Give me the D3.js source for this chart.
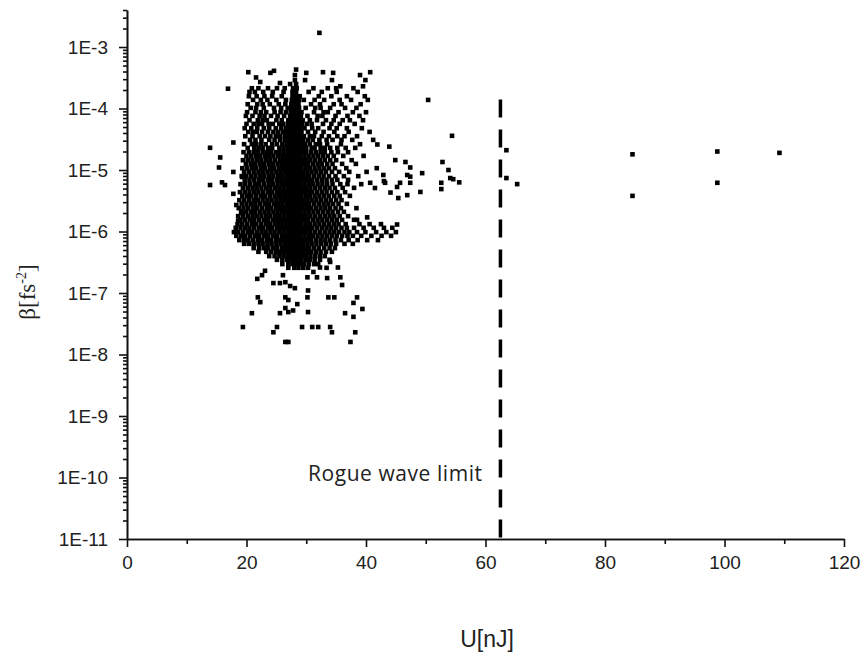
<!DOCTYPE html>
<html>
<head>
<meta charset="utf-8">
<script src="https://cdn.jsdelivr.net/npm/d3@7"></script>
<style>
    body { margin: 0; background: #fff; }
    text { fill: #222; }
</style>
</head>
<body>
<svg id="chart" width="864" height="657"></svg>
<script>
// tick values and labels
var xTicks = [0, 20, 40, 60, 80, 100, 120];
var xMinorTicks = [10, 30, 50, 70, 90, 110];
var yTicks = [1e-11, 1e-10, 1e-9, 1e-8, 1e-7, 1e-6, 1e-5, 1e-4, 1e-3];
var yTickLabels = ["1E-11", "1E-10", "1E-9", "1E-8", "1E-7", "1E-6", "1E-5", "1E-4", "1E-3"];

// rogue wave limit line (U in nJ, top of the dashed line in fs^-2)
var limitU = 62.5;
var limitTop = 1.4e-4;

// the cloud, read row by row: [log10(beta), [U values]]
var coreRows = [
    [-3.67, [20.9, 22.0, 23.6, 25.1, 26.4, 27.8, 28.4, 31.2, 33.6, 35.0, 37.9]],
    [-3.73, [20.5, 21.4, 22.8, 24.4, 26.2, 27.7, 28.3, 30.4, 32.6, 35.1, 38.6]],
    [-3.80, [20.4, 21.7, 23.0, 24.3, 25.9, 27.7, 28.3, 28.9, 32.1, 34.2, 36.8, 39.8]],
    [-3.86, [21.1, 22.4, 23.5, 25.0, 26.6, 27.6, 28.2, 28.8, 29.6, 31.4, 33.0, 35.6, 37.5, 40.3]],
    [-3.93, [20.2, 21.8, 22.7, 23.9, 25.4, 26.5, 27.5, 28.1, 28.7, 30.8, 32.3, 34.6, 35.9, 39.1]],
    [-3.99, [20.7, 21.6, 22.9, 24.6, 25.8, 26.9, 27.6, 28.2, 28.8, 29.9, 31.5, 32.4, 34.0, 36.5, 38.4]],
    [-4.06, [20.1, 21.5, 22.4, 23.3, 24.7, 25.7, 26.6, 27.4, 28.0, 28.6, 29.2, 31.3, 32.9, 33.6, 35.4, 37.8, 40.0]],
    [-4.12, [19.9, 21.0, 22.2, 23.0, 24.1, 25.2, 26.3, 27.3, 27.9, 28.5, 29.1, 30.2, 31.9, 32.7, 34.9, 36.9, 38.9]],
    [-4.19, [20.5, 21.9, 22.7, 23.4, 25.0, 25.9, 27.0, 27.6, 28.2, 28.8, 29.4, 30.6, 31.8, 33.3, 34.6, 36.1, 37.3, 39.5]],
    [-4.25, [20.0, 21.2, 22.0, 22.6, 23.7, 24.4, 25.5, 26.1, 26.9, 27.5, 28.1, 28.7, 29.3, 30.1, 30.9, 32.8, 34.2, 35.6, 38.1]],
    [-4.32, [19.7, 20.8, 21.8, 22.9, 23.8, 24.9, 25.8, 26.6, 27.2, 27.8, 28.4, 29.0, 29.7, 31.0, 32.0, 33.9, 35.1, 36.8, 39.3]],
    [-4.38, [20.3, 21.1, 21.7, 22.6, 23.6, 24.5, 25.3, 26.1, 26.8, 27.4, 28.0, 28.6, 29.2, 30.3, 31.5, 32.9, 34.7, 37.1, 40.6]],
    [-4.45, [19.8, 21.0, 22.2, 23.1, 24.0, 24.9, 25.6, 26.4, 27.1, 27.7, 28.3, 28.9, 29.6, 30.6, 31.3, 32.6, 33.8, 35.2, 36.4, 38.5]],
    [-4.51, [20.6, 21.5, 22.5, 23.8, 24.7, 25.6, 26.4, 27.1, 27.7, 28.3, 28.9, 29.5, 30.3, 31.1, 32.2, 33.4, 34.4, 35.9, 37.7, 41.2]],
    [-4.58, [19.6, 20.9, 21.6, 22.4, 23.2, 24.3, 25.1, 26.0, 26.7, 27.3, 27.9, 28.5, 29.1, 29.8, 30.6, 31.6, 32.3, 33.5, 35.8, 39.0]],
    [-4.64, [20.2, 21.3, 22.0, 22.7, 23.6, 24.3, 25.5, 26.2, 26.9, 27.5, 28.1, 28.7, 29.3, 30.0, 30.9, 31.4, 32.4, 33.1, 34.0, 35.2, 36.6, 38.2]],
    [-4.71, [19.5, 20.4, 21.2, 21.9, 22.7, 23.4, 24.1, 24.9, 25.5, 26.2, 26.9, 27.5, 28.1, 28.7, 29.3, 30.0, 30.8, 31.6, 32.4, 33.1, 34.2, 35.3, 37.0]],
    [-4.77, [20.0, 20.8, 21.6, 22.3, 23.1, 23.8, 24.5, 25.3, 26.0, 26.6, 27.2, 27.8, 28.4, 29.0, 29.7, 30.4, 31.2, 32.0, 32.8, 33.6, 34.6, 36.2, 39.6]],
    [-4.84, [19.4, 20.2, 21.0, 21.8, 22.5, 23.3, 24.0, 24.8, 25.6, 26.3, 26.9, 27.5, 28.1, 28.7, 29.3, 30.0, 30.7, 31.5, 32.3, 33.1, 34.0, 35.0, 37.6]],
    [-4.90, [19.9, 20.7, 21.4, 22.2, 22.9, 23.7, 24.4, 25.2, 25.9, 26.6, 27.2, 27.8, 28.4, 29.0, 29.6, 30.3, 31.1, 31.9, 32.6, 33.5, 34.4, 36.0, 38.3]],
    [-4.97, [19.3, 20.1, 20.9, 21.6, 22.4, 23.1, 23.9, 24.6, 25.4, 26.1, 26.8, 27.4, 28.0, 28.6, 29.2, 29.9, 30.6, 31.4, 32.2, 33.0, 33.8, 34.8, 36.7, 41.8]],
    [-5.03, [19.6, 20.4, 21.2, 22.0, 22.7, 23.5, 24.2, 25.0, 25.7, 26.4, 27.1, 27.7, 28.3, 28.9, 29.5, 30.2, 30.9, 31.7, 32.5, 33.3, 34.3, 35.5, 37.2, 40.1]],
    [-5.10, [19.2, 19.9, 20.7, 21.5, 22.3, 23.0, 23.8, 24.5, 25.3, 26.0, 26.7, 27.3, 27.9, 28.5, 29.1, 29.8, 30.5, 31.3, 32.1, 32.9, 33.8, 34.9, 36.3, 38.7]],
    [-5.16, [19.7, 20.5, 21.3, 22.1, 22.8, 23.6, 24.3, 25.1, 25.8, 26.5, 27.1, 27.7, 28.3, 28.9, 29.6, 30.3, 31.0, 31.8, 32.6, 33.4, 34.3, 35.2, 37.0]],
    [-5.23, [19.0, 19.8, 20.6, 21.4, 22.1, 22.9, 23.7, 24.4, 25.2, 25.9, 26.6, 27.2, 27.8, 28.4, 29.0, 29.7, 30.4, 31.1, 31.9, 32.7, 33.5, 34.4, 35.7, 36.9, 39.2]],
    [-5.29, [19.4, 20.2, 21.0, 21.7, 22.5, 23.3, 24.0, 24.8, 25.5, 26.2, 26.9, 27.5, 28.1, 28.7, 29.3, 30.0, 30.7, 31.5, 32.3, 33.1, 33.9, 34.8, 36.1, 38.0]],
    [-5.36, [18.9, 19.7, 20.5, 21.3, 22.0, 22.8, 23.6, 24.3, 25.1, 25.8, 26.5, 27.1, 27.7, 28.3, 28.9, 29.6, 30.3, 31.0, 31.8, 32.6, 33.4, 34.3, 35.2, 36.5]],
    [-5.42, [19.3, 20.1, 20.8, 21.6, 22.4, 23.1, 23.9, 24.7, 25.4, 26.1, 26.8, 27.4, 28.0, 28.6, 29.2, 29.9, 30.6, 31.4, 32.2, 33.0, 33.8, 34.7, 35.6, 37.3]],
    [-5.49, [18.8, 19.6, 20.4, 21.2, 21.9, 22.7, 23.5, 24.2, 25.0, 25.7, 26.4, 27.0, 27.6, 28.2, 28.8, 29.5, 30.2, 30.9, 31.7, 32.5, 33.3, 34.1, 35.0, 35.9]],
    [-5.55, [19.2, 20.0, 20.8, 21.5, 22.3, 23.1, 23.8, 24.6, 25.3, 26.0, 26.7, 27.3, 27.9, 28.5, 29.1, 29.8, 30.5, 31.3, 32.1, 32.9, 33.7, 34.5, 35.4, 36.8]],
    [-5.62, [18.7, 19.5, 20.3, 21.1, 21.8, 22.6, 23.4, 24.1, 24.9, 25.6, 26.3, 27.0, 27.6, 28.2, 28.8, 29.4, 30.1, 30.8, 31.6, 32.4, 33.2, 34.0, 34.9, 35.8, 38.4]],
    [-5.68, [19.1, 19.9, 20.7, 21.4, 22.2, 23.0, 23.7, 24.5, 25.2, 25.9, 26.6, 27.2, 27.8, 28.4, 29.0, 29.7, 30.4, 31.2, 32.0, 32.8, 33.6, 34.4, 35.3, 36.3]],
    [-5.75, [18.6, 19.4, 20.2, 21.0, 21.7, 22.5, 23.3, 24.0, 24.8, 25.5, 26.2, 26.9, 27.5, 28.1, 28.7, 29.3, 30.0, 30.7, 31.5, 32.3, 33.1, 33.9, 34.7, 35.6, 37.0]],
    [-5.81, [19.0, 19.8, 20.6, 21.3, 22.1, 22.9, 23.6, 24.4, 25.1, 25.8, 26.5, 27.1, 27.7, 28.3, 28.9, 29.6, 30.3, 31.1, 31.9, 32.7, 33.5, 34.3, 35.1, 36.0, 38.0]],
    [-5.88, [18.5, 19.3, 20.1, 20.9, 21.6, 22.4, 23.2, 23.9, 24.7, 25.4, 26.1, 26.8, 27.4, 28.0, 28.6, 29.2, 29.9, 30.6, 31.4, 32.2, 33.0, 33.8, 34.6, 35.4, 36.6, 38.9, 40.6, 42.5]],
    [-5.94, [18.2, 19.0, 19.8, 20.5, 21.3, 22.1, 22.8, 23.6, 24.3, 25.1, 25.8, 26.5, 27.1, 27.7, 28.3, 28.9, 29.6, 30.3, 31.0, 31.8, 32.6, 33.4, 34.2, 35.0, 35.9, 36.8, 38.0, 39.6, 41.3, 43.0, 44.4]],
    [-6.01, [17.9, 18.6, 19.4, 20.2, 20.9, 21.7, 22.5, 23.2, 24.0, 24.7, 25.5, 26.2, 26.9, 27.5, 28.1, 28.7, 29.3, 30.0, 30.7, 31.5, 32.3, 33.1, 33.9, 34.7, 35.5, 36.4, 37.2, 38.5, 39.9, 41.7, 43.4, 45.0]],
    [-6.07, [18.3, 19.1, 19.8, 20.6, 21.4, 22.1, 22.9, 23.6, 24.4, 25.1, 25.9, 26.6, 27.2, 27.8, 28.4, 29.0, 29.7, 30.4, 31.1, 31.9, 32.7, 33.5, 34.3, 35.1, 36.0, 36.9, 37.8, 39.2, 40.9, 42.6, 44.2]],
    [-6.14, [18.8, 19.6, 20.3, 21.1, 21.9, 22.6, 23.4, 24.1, 24.9, 25.6, 26.3, 27.0, 27.6, 28.2, 28.8, 29.4, 30.1, 30.8, 31.6, 32.4, 33.2, 34.0, 34.9, 35.8, 37.1, 38.6, 40.2, 42.0]],
    [-6.20, [19.6, 20.4, 21.2, 22.0, 22.7, 23.5, 24.2, 25.0, 25.7, 26.4, 27.1, 27.7, 28.3, 28.9, 29.5, 30.2, 30.9, 31.7, 32.5, 33.3, 34.1, 35.0, 36.4, 37.8]],
    [-6.27, [21.2, 22.1, 22.9, 23.6, 24.4, 25.1, 25.9, 26.6, 27.3, 27.9, 28.5, 29.1, 29.8, 30.5, 31.3, 32.1, 33.0, 33.9, 34.8]],
    [-6.33, [22.0, 23.3, 24.1, 24.9, 25.6, 26.3, 27.0, 27.6, 28.2, 28.8, 29.4, 30.1, 30.8, 31.6, 32.4, 33.3, 34.3]],
    [-6.40, [23.8, 24.7, 25.5, 26.2, 26.9, 27.5, 28.1, 28.7, 29.3, 30.0, 30.7, 31.5, 32.3, 33.1]],
    [-6.46, [25.1, 26.0, 26.8, 27.4, 28.0, 28.6, 29.2, 29.9, 30.6, 31.4, 32.3, 33.9]],
    [-6.53, [26.0, 27.0, 27.7, 28.3, 28.9, 29.6, 30.4, 31.3, 32.0]],
    [-6.59, [27.0, 28.0, 28.7, 29.5, 30.3, 33.4]]
];

// loose points [U, beta]
var topPoints = [
    [32.2, 1.7e-3], [16.9, 2.1e-4], [20.3, 3.9e-4], [21.6, 3.2e-4], [22.3, 2.7e-4],
    [24.0, 3.8e-4], [24.6, 4.1e-4], [25.6, 2.6e-4], [27.3, 2.5e-4], [30.0, 3.8e-4],
    [29.8, 2.9e-4], [32.8, 3.9e-4], [34.5, 3.8e-4], [34.3, 2.9e-4], [35.7, 2.3e-4],
    [39.0, 3.5e-4], [40.7, 3.9e-4], [39.9, 2.9e-4], [39.5, 2.3e-4],
    [28.3, 4.3e-4], [28.1, 3.5e-4], [28.1, 2.9e-4], [28.3, 2.5e-4]
];

var leftPoints = [
    [13.9, 2.3e-5], [17.8, 2.8e-5], [15.6, 1.6e-5], [15.4, 1.1e-5], [17.8, 9.3e-6],
    [15.9, 6.3e-6], [16.4, 5.7e-6], [13.9, 5.7e-6], [19.3, 7.7e-6], [17.8, 4.1e-6],
    [19.3, 2.0e-6], [18.3, 2.7e-6], [18.6, 1.5e-6]
];

var rightPoints = [
    [41.9, 2.6e-5], [43.9, 2.4e-5], [46.6, 1.35e-5], [47.4, 1.1e-5], [46.9, 8.3e-6],
    [47.4, 7.8e-6], [49.4, 8.9e-6], [49.1, 4.4e-6], [45.7, 6.2e-6], [45.2, 5.3e-6],
    [46.9, 3.9e-6], [45.4, 3.5e-6], [42.9, 8.3e-6], [43.2, 6.2e-6], [44.1, 4.3e-6],
    [41.5, 5.1e-6], [43.0, 6.6e-6], [52.8, 1.35e-5], [53.8, 1.0e-5], [54.1, 7.4e-6],
    [54.6, 7.1e-6], [55.6, 6.3e-6], [52.6, 6.2e-6], [52.6, 4.9e-6], [50.4, 1.38e-4],
    [54.4, 3.6e-5], [40.7, 6.2e-6], [47.4, 6.2e-6], [38.5, 1.55e-6], [40.2, 1.7e-6],
    [45.2, 1.3e-6], [44.9, 1.45e-5]
];

var farPoints = [
    [63.5, 2.1e-5], [63.5, 7.4e-6], [65.3, 5.9e-6], [84.6, 1.8e-5], [84.6, 3.8e-6],
    [98.8, 2.0e-5], [98.8, 6.2e-6], [109.2, 1.9e-5]
];

var lowPoints = [
    [21.8, 1.7e-7], [22.6, 1.95e-7], [24.5, 1.45e-7], [25.6, 1.45e-7], [26.5, 1.5e-7],
    [27.3, 1.3e-7], [28.1, 1.2e-7], [30.2, 1.8e-7], [31.2, 2.2e-7], [31.8, 1.8e-7],
    [33.5, 1.75e-7], [35.3, 2.6e-7], [35.7, 1.8e-7], [36.0, 1.35e-7], [30.3, 1.1e-7],
    [30.2, 8.5e-8], [33.7, 8.5e-8], [34.7, 8.5e-8], [38.5, 8.5e-8], [21.9, 8.5e-8],
    [22.3, 7.1e-8], [26.5, 8.5e-8], [27.0, 7.7e-8], [28.5, 6.6e-8], [37.9, 6.9e-8],
    [20.9, 4.7e-8], [25.6, 4.7e-8], [26.5, 5.7e-8], [27.0, 4.9e-8], [27.8, 5.2e-8],
    [30.3, 4.9e-8], [36.5, 4.7e-8], [39.4, 5.5e-8], [37.9, 4.1e-8], [19.4, 2.8e-8],
    [25.1, 2.8e-8], [24.5, 2.3e-8], [29.3, 2.8e-8], [31.0, 2.8e-8], [32.0, 2.8e-8],
    [34.0, 2.8e-8], [34.3, 2.3e-8], [38.2, 2.3e-8], [26.5, 1.6e-8], [27.0, 1.6e-8],
    [37.4, 1.6e-8], [26.1, 1.95e-7], [34.0, 3.2e-7], [32.3, 2.6e-7], [23.1, 2.3e-7]
];

var svg = d3.select("#chart");

// scales
var x = d3.scaleLinear()
    .domain([0, 120])
    .range([127, 844]);
var y = d3.scaleLog()
    .domain([1e-11, 4e-3])
    .range([539, 10]);

// collect all points
var points = [];
coreRows.forEach(function (row) {
    row[1].forEach(function (u) {
        points.push({u: u, b: Math.pow(10, row[0])});
    });
});
[topPoints, leftPoints, rightPoints, farPoints, lowPoints].forEach(function (list) {
    list.forEach(function (d) {
        points.push({u: d[0], b: d[1]});
    });
});

// minor ticks for the log axis (2..9 in each decade)
var yMinorTicks = [];
yTicks.forEach(function (t) {
    for (var m = 2; m <= 9; m++) {
        if (t * m <= 4e-3) yMinorTicks.push(t * m);
    }
});

// minor ticks
svg.append("g")
    .attr("class", "axis")
    .attr("transform", "translate(" + x(0) + ",0)")
    .call(d3.axisLeft(y).tickValues(yMinorTicks).tickSize(4).tickSizeOuter(0).tickFormat(""));
svg.append("g")
    .attr("class", "axis")
    .attr("transform", "translate(0," + y(1e-11) + ")")
    .call(d3.axisBottom(x).tickValues(xMinorTicks).tickSize(5).tickSizeOuter(0).tickFormat(""));

// major y axis
var yAxis = svg.append("g")
    .attr("class", "axis")
    .attr("transform", "translate(" + x(0) + ",0)")
    .call(d3.axisLeft(y)
        .tickValues(yTicks)
        .tickSize(8)
        .tickSizeOuter(0)
        .tickPadding(11)
        .tickFormat(function (d, i) { return yTickLabels[i]; }));

// major x axis
var xAxis = svg.append("g")
    .attr("class", "axis")
    .attr("transform", "translate(0," + y(1e-11) + ")")
    .call(d3.axisBottom(x)
        .tickValues(xTicks)
        .tickSize(8)
        .tickSizeOuter(0)
        .tickPadding(9));

svg.selectAll(".axis path, .axis line")
    .attr("stroke", "#111")
    .attr("stroke-width", 1.6);
svg.selectAll(".axis text")
    .attr("fill", "#222")
    .style("font-family", "'Liberation Sans', Arial, sans-serif");
yAxis.selectAll("text").style("font-size", "19px");
xAxis.selectAll("text").style("font-size", "19px");

// scatter points
svg.append("g")
    .selectAll("rect")
    .data(points)
    .enter().append("rect")
    .attr("x", function (d) { return x(d.u) - 2.3; })
    .attr("y", function (d) { return y(d.b) - 2.3; })
    .attr("width", 4.6)
    .attr("height", 4.6)
    .attr("fill", "#000");

// rogue wave limit
svg.append("line")
    .attr("x1", x(limitU))
    .attr("x2", x(limitU))
    .attr("y1", y(limitTop))
    .attr("y2", y(1e-11))
    .attr("stroke", "#000")
    .attr("stroke-width", 3.5)
    .attr("stroke-dasharray", "18,12");

svg.append("text")
    .attr("x", 308)
    .attr("y", 481)
    .attr("textLength", 174)
    .attr("lengthAdjust", "spacing")
    .style("font-family", "'Open Sans', sans-serif")
    .style("font-size", "21px")
    .text("Rogue wave limit");

// axis titles
svg.append("text")
    .attr("x", 487)
    .attr("y", 647)
    .attr("text-anchor", "middle")
    .style("font-family", "'Liberation Sans', Arial, sans-serif")
    .style("font-size", "23px")
    .text("U[nJ]");

var yTitle = svg.append("text")
    .attr("transform", "translate(35,292) rotate(-90)")
    .attr("text-anchor", "middle")
    .style("font-family", "'Liberation Serif', serif")
    .style("font-size", "23px");
yTitle.append("tspan").text("β[fs");
yTitle.append("tspan").attr("dy", -9).style("font-size", "14px").text("-2");
yTitle.append("tspan").attr("dy", 9).text("]");
</script>
</body>
</html>
